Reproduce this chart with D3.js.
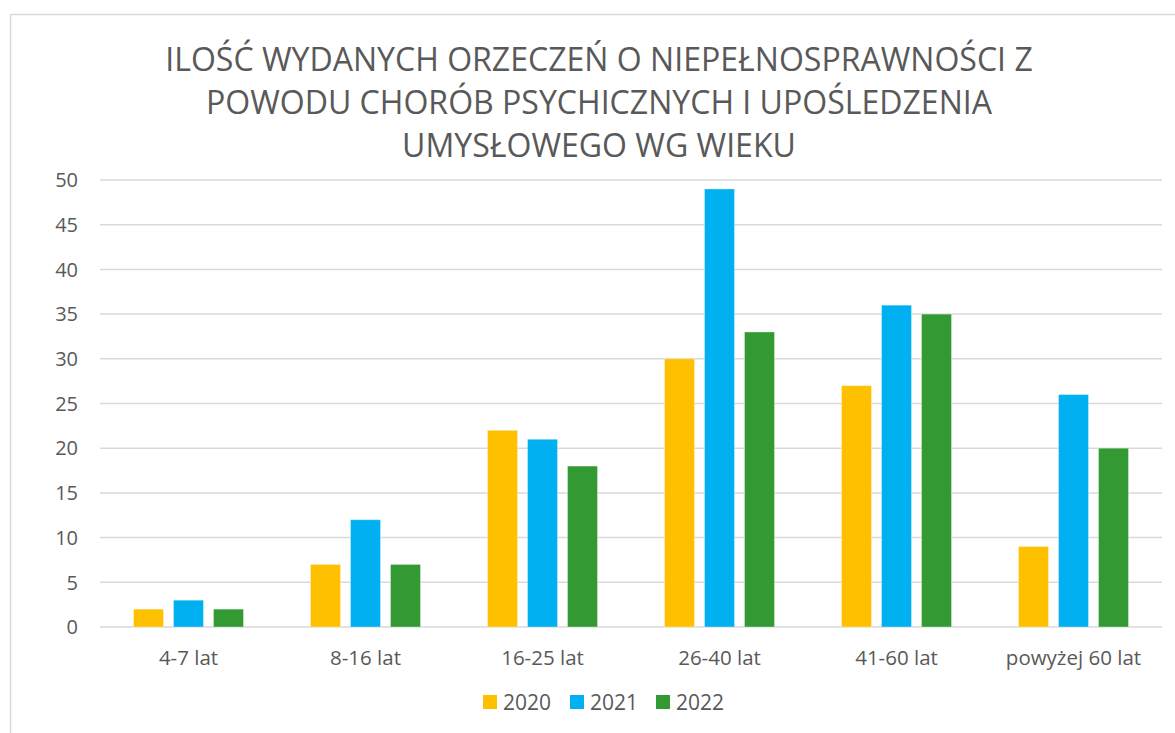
<!DOCTYPE html>
<html><head><meta charset="utf-8">
<script src="https://cdn.jsdelivr.net/npm/d3@7"></script>
<style>body{margin:0;background:#fff}svg{display:block}</style>
</head><body>
<svg id="c" width="1175" height="733"></svg>
<script>
const categories = ["4-7 lat","8-16 lat","16-25 lat","26-40 lat","41-60 lat","powyżej 60 lat"];
const seriesNames = ["2020","2021","2022"];
const values2020 = [2,7,22,30,27,9];
const values2021 = [3,12,21,49,36,26];
const values2022 = [2,7,18,33,35,20];
const colors = ["#FFC000","#00B0F0","#339933"];
const yTicks = [0,5,10,15,20,25,30,35,40,45,50];
const titleLines = ["ILOŚĆ WYDANYCH ORZECZEŃ O NIEPEŁNOSPRAWNOŚCI Z","POWODU CHORÓB PSYCHICZNYCH I UPOŚLEDZENIA","UMYSŁOWEGO WG WIEKU"];

const series = [values2020, values2021, values2022];
const svg = d3.select("#c");
const font = "'Open Sans', 'Liberation Sans', sans-serif";
const textCol = "#595959";

// frame
svg.append("rect").attr("x",10.5).attr("y",14.5).attr("width",1180).attr("height",740)
  .attr("fill","#fff").attr("stroke","#d9d9d9").attr("stroke-width",1.5);

const pLeft=100, pRight=1162, pTop=180, pBottom=627;
const x = d3.scaleBand().domain(categories).range([pLeft,pRight]);
const y = d3.scaleLinear().domain([0,50]).range([pBottom,pTop]);
const xs = d3.scaleBand().domain(seriesNames).range([0,110]).paddingInner(0.25);

// grid
svg.append("g").selectAll("line").data(yTicks).join("line")
  .attr("x1",pLeft).attr("x2",pRight).attr("y1",d=>y(d)).attr("y2",d=>y(d))
  .attr("stroke","#d9d9d9").attr("stroke-width",1.5);

// y labels
svg.append("g").selectAll("text").data(yTicks).join("text")
  .attr("x",78).attr("y",d=>y(d)).attr("dy","0.36em").attr("text-anchor","end")
  .attr("font-family",font).attr("font-size",20).attr("fill",textCol).text(d=>d);

// bars
series.forEach((vals,si)=>{
  svg.append("g").selectAll("rect").data(vals).join("rect")
    .attr("x",(d,i)=>x(categories[i])+x.bandwidth()/2-55+xs(seriesNames[si]))
    .attr("width",xs.bandwidth())
    .attr("y",d=>y(d)).attr("height",d=>y(0)-y(d))
    .attr("fill",colors[si]).attr("stroke","rgba(255,255,255,0.35)").attr("stroke-width",1);
});

// x labels
svg.append("g").selectAll("text").data(categories).join("text")
  .attr("x",d=>x(d)+x.bandwidth()/2).attr("y",665).attr("text-anchor","middle")
  .attr("font-family",font).attr("font-size",20.5).attr("fill",textCol).text(d=>d);

// title
const tl = svg.append("g").selectAll("text").data(titleLines).join("text")
  .attr("x",599).attr("y",(d,i)=>71+i*43).attr("text-anchor","middle")
  .attr("font-family",font).attr("font-size",27).attr("fill",textCol).text(d=>d);
const w0 = tl.node().getComputedTextLength();
const fs = 27*868/w0;
tl.attr("font-size",fs);

// legend
const lx=[483,570,656];
const lg = svg.append("g");
seriesNames.forEach((n,i)=>{
  lg.append("rect").attr("x",lx[i]).attr("y",695).attr("width",14).attr("height",14).attr("fill",colors[i]);
  lg.append("text").attr("x",lx[i]+20).attr("y",702).attr("dy","0.36em")
    .attr("font-family",font).attr("font-size",21).attr("fill",textCol).text(n);
});
</script>
</body></html>
